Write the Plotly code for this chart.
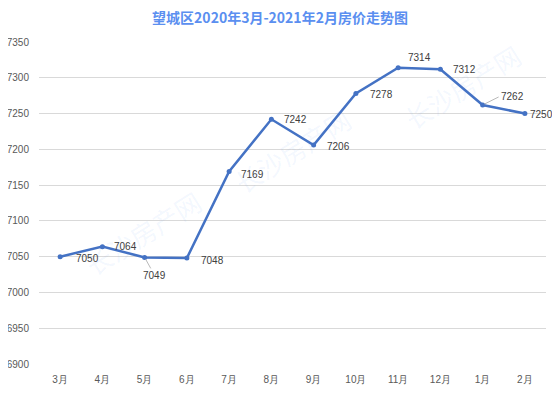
import plotly.graph_objects as go

months = ["3月", "4月", "5月", "6月", "7月", "8月", "9月", "10月", "11月", "12月", "1月", "2月"]
prices = [7050, 7064, 7049, 7048, 7169, 7242, 7206, 7278, 7314, 7312, 7262, 7250]
title_text = "望城区2020年3月-2021年2月房价走势图"
y_ticks = [6900, 6950, 7000, 7050, 7100, 7150, 7200, 7250, 7300, 7350]
watermark = "长沙房产网"

# label offsets (style only): (xshift, yshift, arrow offset)
label_pos = [
    (14, -2, None), (10, 0, None), (None, None, (10, 18)), (12, -2, None),
    (10, -3, None), (11, 0, None), (11, -1, None), (12, -1, None),
    (8, 10, None), (11, 0, None), (None, None, (16, -8)), (3, -1, None),
]

# the page body keeps an 8px default margin: keep the figure inside the window (no scrollbars)
OFF = 8
W, H = 560 - 2 * OFF, 395 - 2 * OFF
L, T = 39 - OFF, 42 - OFF
PW, PH = 507, 322
R, B = W - L - PW, H - T - PH

fig = go.Figure()
fig.add_trace(go.Scatter(
    x=months, y=prices, mode="lines+markers",
    line=dict(color="#4472C4", width=2.5),
    marker=dict(color="#4472C4", size=5),
    hoverinfo="skip", showlegend=False, cliponaxis=False,
))

annotations = []
# watermarks first so they sit beneath the labels (screen centres converted to paper coords)
for sx, sy in [(143, 233), (292, 150), (462, 86)]:
    annotations.append(dict(x=(sx - OFF - L) / PW, y=1 - (sy - OFF - T) / PH, xref="paper", yref="paper",
                            xanchor="center", yanchor="middle",
                            text=watermark, showarrow=False, textangle=-32,
                            font=dict(family="Noto Sans CJK SC", size=26, color="rgba(91,143,240,0.08)")))

for m, v, (xs, ys, arr) in zip(months, prices, label_pos):
    if arr is None:
        annotations.append(dict(x=m, y=v, xref="x", yref="y", text=str(v), showarrow=False,
                                xanchor="left", yanchor="middle", xshift=xs, yshift=ys,
                                font=dict(family="Liberation Sans, Arial", size=10, color="#404040")))
    else:
        annotations.append(dict(x=m, y=v, xref="x", yref="y", text=str(v), showarrow=True,
                                arrowhead=0, arrowwidth=0.8, arrowcolor="#A6A6A6",
                                ax=arr[0], ay=arr[1], xanchor="left" if arr[0] > 12 else "center",
                                yanchor="middle", standoff=2,
                                font=dict(family="Liberation Sans, Arial", size=10, color="#404040")))

fig.update_layout(
    width=W, height=H,
    margin=dict(l=L, r=R, t=T, b=B, autoexpand=False),
    paper_bgcolor="white", plot_bgcolor="white",
    title=dict(text="<b>" + title_text + "</b>", x=(280 - OFF) / W, xref="container", xanchor="center",
               y=1 - (18.5 - OFF) / H, yref="container", yanchor="middle",
               font=dict(family="Noto Sans CJK SC", size=14, color="#5B8FF0")),
    annotations=annotations,
    xaxis=dict(range=[-0.5, 11.5], showgrid=False, showline=False, ticks="", zeroline=False,
               automargin=False, ticklabelstandoff=8,
               tickfont=dict(family="Liberation Sans, Arial", size=10, color="#595959")),
    yaxis=dict(range=[6900, 7350], tickvals=y_ticks, showgrid=True, gridcolor="#D9D9D9", gridwidth=1,
               zeroline=False, showline=False, ticks="", ticklabelstandoff=9, automargin=False,
               tickfont=dict(family="Liberation Sans, Arial", size=10, color="#595959")),
)

fig.write_html("out.html")
